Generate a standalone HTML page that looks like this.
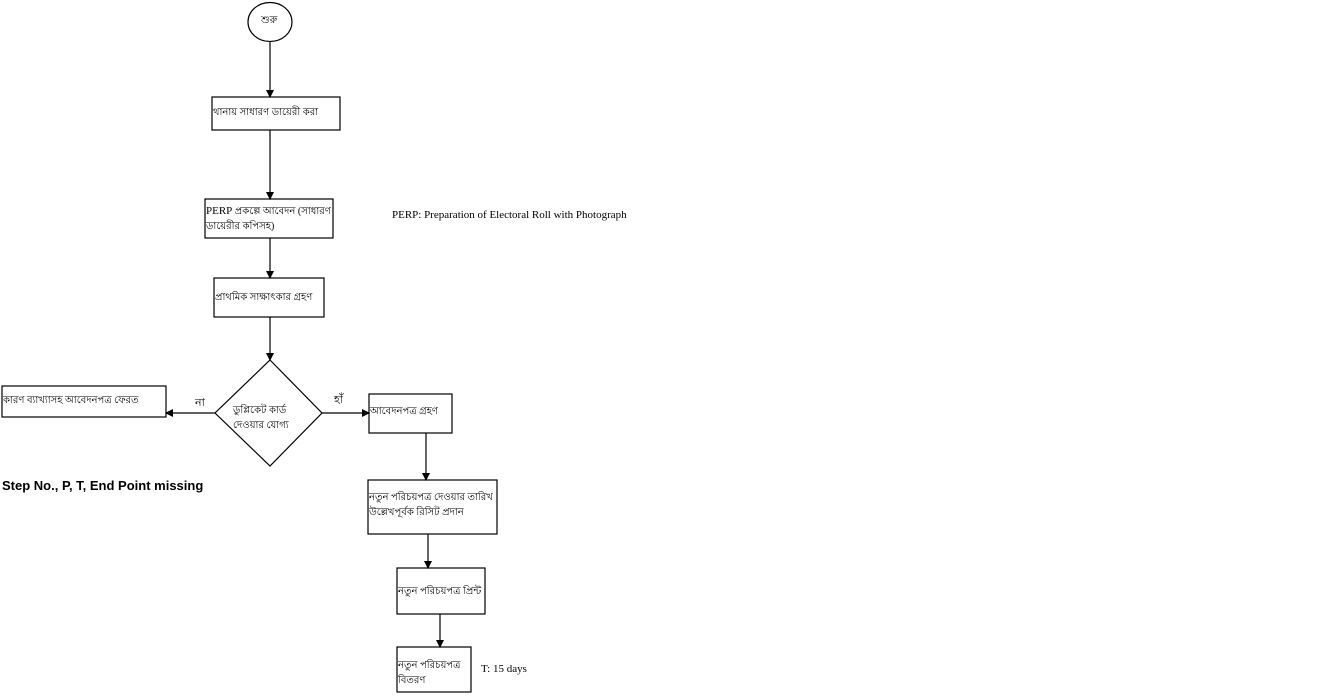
<!DOCTYPE html>
<html><head><meta charset="utf-8"><style>
body{margin:0;width:1322px;height:697px;background:#fff;overflow:hidden;position:relative}
.t{position:absolute;font-family:"Liberation Serif","Noto Sans CJK SC",sans-serif;font-size:10px;color:#000;line-height:15px;white-space:nowrap}
</style></head><body>
<svg width="1322" height="697" style="position:absolute;left:0;top:0">
<defs><marker id="a" markerWidth="8" markerHeight="8" refX="7" refY="4" orient="auto" markerUnits="userSpaceOnUse"><path d="M0,0L8,4L0,8z" fill="#000"/></marker></defs>
<g fill="none" stroke="#000" stroke-width="1.2">
<ellipse cx="270" cy="22" rx="22" ry="19.5"/>
<rect x="212" y="97" width="128" height="33"/>
<rect x="205" y="199" width="128" height="39"/>
<rect x="214" y="278" width="110" height="39"/>
<polygon points="270,360 322,413 270,466 215,413"/>
<rect x="2" y="386" width="164" height="31"/>
<rect x="369" y="394" width="83" height="39"/>
<rect x="368" y="480" width="129" height="54"/>
<rect x="397" y="568" width="88" height="46"/>
<rect x="397" y="647" width="74" height="45"/>
<g marker-end="url(#a)">
<line x1="270" y1="42" x2="270" y2="97"/>
<line x1="270" y1="130" x2="270" y2="199"/>
<line x1="270" y1="238" x2="270" y2="278"/>
<line x1="270" y1="317" x2="270" y2="360"/>
<line x1="215" y1="413" x2="166" y2="413"/>
<line x1="322" y1="413" x2="369" y2="413"/>
<line x1="426" y1="433" x2="426" y2="480"/>
<line x1="428" y1="534" x2="428" y2="568"/>
<line x1="440" y1="614" x2="440" y2="647"/>
</g></g></svg>
<div class="t" style="left:261px;top:13px">শুরু</div>
<div class="t" style="left:213px;top:105px">থানায় সাধারণ ডায়েরী করা</div>
<div class="t" style="left:206px;top:204px"><span style="font-size:11px">PERP</span> প্রকল্পে আবেদন (সাধারণ<br>ডায়েরীর কপিসহ)</div>
<div class="t" style="left:215px;top:290px">প্রাথমিক সাক্ষাৎকার গ্রহণ</div>
<div class="t" style="left:233px;top:403px">ডুপ্লিকেট কার্ড<br>দেওয়ার যোগ্য</div>
<div class="t" style="left:3px;top:393px">কারণ ব্যাখ্যাসহ আবেদনপত্র ফেরত</div>
<div class="t" style="left:195px;top:396px;font-size:11px">না</div>
<div class="t" style="left:334px;top:393px;font-size:11px">হাঁ</div>
<div class="t" style="left:370px;top:404px">আবেদনপত্র গ্রহণ</div>
<div class="t" style="left:369px;top:490px">নতুন পরিচয়পত্র দেওয়ার তারিখ<br>উল্লেখপূর্বক রিসিট প্রদান</div>
<div class="t" style="left:398px;top:584px">নতুন পরিচয়পত্র প্রিন্ট</div>
<div class="t" style="left:398px;top:658px">নতুন পরিচয়পত্র<br>বিতরণ</div>
<div class="t" style="left:481px;top:662px;font-size:11px">T: 15 days</div>
<div class="t" style="left:392px;top:208px;font-size:11px">PERP: Preparation of Electoral Roll with Photograph</div>
<div class="t" style="left:2px;top:478px;font-family:'Liberation Sans',sans-serif;font-weight:bold;font-size:13px">Step No., P, T, End Point missing</div>
</body></html>
